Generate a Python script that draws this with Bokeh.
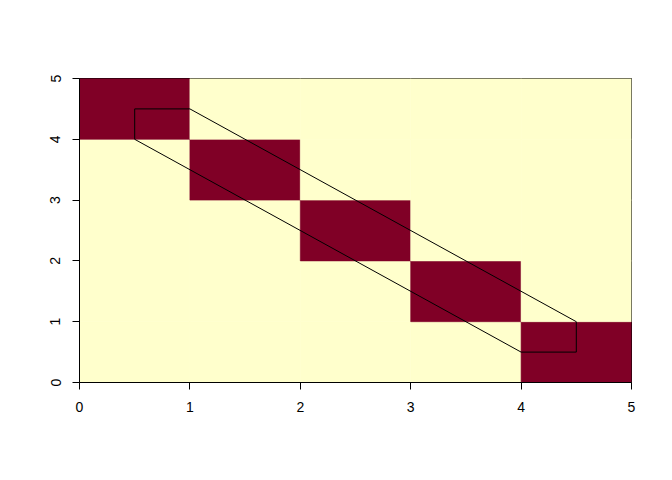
from bokeh.plotting import figure
from bokeh.embed import file_html
from bokeh.resources import INLINE
from bokeh.models import FixedTicker, Range1d

# cell grid (centers) and values
cell_x = [0.5, 1.5, 2.5, 3.5, 4.5] * 5
cell_y = [y for y in [0.5, 1.5, 2.5, 3.5, 4.5] for _ in range(5)]
diag = {(0.5, 4.5), (1.5, 3.5), (2.5, 2.5), (3.5, 1.5), (4.5, 0.5)}
cell_val = [1 if (x, y) in diag else 0 for x, y in zip(cell_x, cell_y)]
palette = ["#FFFFCC", "#800026"]
cell_color = [palette[v] for v in cell_val]

poly_x = [0.5, 1.0, 4.5, 4.5, 4.0, 0.5]
poly_y = [4.5, 4.5, 1.0, 0.5, 0.5, 4.0]

ticks = [0, 1, 2, 3, 4, 5]

p = figure(width=664, height=472, output_backend="svg", toolbar_location=None,
           x_range=Range1d(0, 5), y_range=Range1d(0, 5),
           min_border_left=79, min_border_right=33, min_border_top=78, min_border_bottom=90)
p.rect(x=cell_x, y=cell_y, width=1, height=1, fill_color=cell_color,
       line_color=cell_color, line_width=0.6)
p.patch(poly_x, poly_y, fill_alpha=0, line_color="black", line_width=1)

p.grid.visible = False
p.outline_line_color = "black"
p.outline_line_width = 1
p.outline_line_alpha = 1
p.background_fill_color = "white"

for ax in (p.xaxis[0], p.yaxis[0]):
    ax.ticker = FixedTicker(ticks=ticks)
    ax.minor_tick_line_color = None
    ax.major_tick_in = 0
    ax.major_tick_out = 7
    ax.axis_line_color = "black"
    ax.major_tick_line_color = "black"
    ax.major_label_text_font = "Liberation Sans"
    ax.major_label_text_font_size = "14px"
    ax.major_label_text_color = "black"
    ax.major_label_standoff = 12
p.yaxis[0].major_label_orientation = "vertical"

open("out.html", "w").write(file_html(p, INLINE))
